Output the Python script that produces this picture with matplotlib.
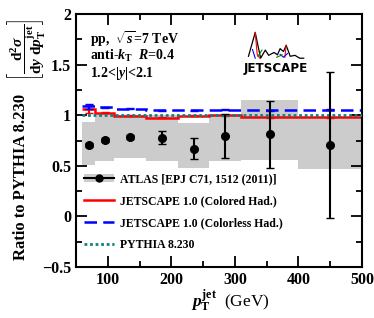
import matplotlib
matplotlib.use('Agg')
import matplotlib.pyplot as plt
from matplotlib.patches import Patch
from matplotlib.lines import Line2D

plt.rcParams['font.family'] = 'Liberation Serif'
plt.rcParams['font.weight'] = 'bold'
plt.rcParams['mathtext.fontset'] = 'custom'
plt.rcParams['mathtext.rm'] = 'Liberation Serif:bold'
plt.rcParams['mathtext.bf'] = 'Liberation Serif:bold'
plt.rcParams['mathtext.it'] = 'Liberation Serif:italic:bold'

# pT bins (GeV)
bin_edges = [60, 80, 110, 160, 210, 260, 310, 400, 500]

# ATLAS data / PYTHIA
atlas_x = [70, 95, 135, 185, 235, 285, 355, 450]
atlas_y = [0.71, 0.76, 0.785, 0.78, 0.67, 0.795, 0.81, 0.71]
atlas_err = [0.02, 0.02, 0.02, 0.06, 0.105, 0.215, 0.335, 0.72]
sys_lo = [0.51, 0.545, 0.58, 0.55, 0.48, 0.545, 0.555, 0.465]
sys_hi = [0.935, 1.0, 1.0, 1.0, 0.92, 1.0, 1.15, 0.98]

# JETSCAPE / PYTHIA ratios
colored = [1.06, 1.027, 0.993, 0.973, 0.993, 1.0, 0.98, 0.98]
colored_err = [0.04, 0.005, 0.005, 0.005, 0.005, 0.005, 0.005, 0.005]
colorless = [1.09, 1.08, 1.066, 1.05, 1.05, 1.055, 1.05, 1.056]
colorless_err = [0.025, 0.005, 0.005, 0.005, 0.005, 0.005, 0.005, 0.005]
pythia = [1.0, 1.0, 1.0, 1.0, 1.0, 1.0, 1.0, 1.0]

fig = plt.figure(figsize=(3.74, 3.18), dpi=100)
ax = fig.add_axes([0.203, 0.160, 0.765, 0.796])

# systematic band
ax.stairs(sys_hi, bin_edges, baseline=sys_lo, fill=True, color='#cccccc', lw=0, zorder=1)

ax.stairs(pythia, bin_edges, baseline=None, color='#118080', ls=(0, (1, 1)), lw=2, zorder=3)
ax.stairs(colored, bin_edges, baseline=None, color='red', lw=1.8, zorder=2)
ax.errorbar(atlas_x, colored, yerr=colored_err, fmt='none', ecolor='red', lw=1.5, capsize=3, zorder=2)
ax.stairs(colorless, bin_edges, baseline=None, color='blue', ls=(0, (5, 2.5)), lw=1.8, zorder=2)
ax.errorbar(atlas_x, colorless, yerr=colorless_err, fmt='none', ecolor='blue', lw=1.5, capsize=3, zorder=2)

eb = ax.errorbar(atlas_x, atlas_y, yerr=atlas_err, fmt='o', color='black', ms=5.5,
                 lw=1.5, capsize=3, zorder=5)

ax.set_xlim(50, 500)
ax.set_ylim(-0.5, 2)
ax.set_xticks([100, 200, 300, 400, 500])
ax.set_xticks([50, 150, 250, 350, 450], minor=True)
ax.set_yticks([-0.5, 0, 0.5, 1, 1.5, 2])
ax.set_yticklabels(['\u22120.5', '0', '0.5', '1', '1.5', '2'])
ax.set_yticks([-0.25, 0.25, 0.75, 1.25, 1.75], minor=True)
ax.tick_params(which='both', direction='in', top=True, right=True, labelsize=11.5, width=1.3)
ax.tick_params(which='major', length=8)
ax.tick_params(which='minor', length=4)
for s in ax.spines.values():
    s.set_linewidth(1.5)

ax.set_xlabel(r'$p_{\mathrm{T}}^{\mathrm{jet}}$  (GeV)', fontsize=12.5, x=0.54, labelpad=0)
fig.text(0.055, 0.445, 'Ratio to PYTHIA 8.230', rotation=90, ha='center', va='center',
         fontsize=12, fontweight='bold')
fig.text(0.072, 0.845,
         r'$\left[\dfrac{\mathrm{d}^2\sigma}{\mathrm{d}y\ \mathrm{d}p_{\mathrm{T}}^{\mathrm{jet}}}\right]$',
         rotation=90, ha='center', va='center', fontsize=11)

ax.text(0.05, 0.9, r'pp,  $\sqrt{s}$=7 TeV', transform=ax.transAxes, fontsize=10, va='center')
ax.text(0.05, 0.833, r'anti-$k_{\mathrm{T}}$  $R$=0.4', transform=ax.transAxes, fontsize=10, va='center')
ax.text(0.05, 0.766, r'1.2<|$y$|<2.1', transform=ax.transAxes, fontsize=10, va='center')

# JETSCAPE logo
lg = fig.add_axes([0.65, 0.76, 0.18, 0.15])
lg.set_xlim(0, 100)
lg.set_ylim(0, 100)
lg.axis('off')
lg.plot([8, 18, 26, 33, 38, 46, 51, 55, 60, 64, 70, 77, 84, 90],
        [42, 92, 38, 55, 44, 50, 45, 58, 52, 65, 42, 44, 38, 38], color='black', lw=0.9)
lg.plot([18, 21, 25], [92, 45, 38], color='red', lw=0.8)
lg.plot([14, 18], [56, 38], color='blue', lw=0.8)
lg.plot([22, 28], [42, 55], color='green', lw=0.8)
lg.plot([64, 62], [65, 40], color='red', lw=0.8)
lg.plot([55, 60, 66], [46, 40, 48], color='blue', lw=0.8)
lg.plot([50, 58], [40, 45], color='green', lw=0.8)
lg.text(48, 16, 'JETSCAPE', ha='center', va='center', fontsize=9.5, family='DejaVu Sans',
        fontweight='bold', fontstretch='condensed')

band = Patch(facecolor='#cccccc', edgecolor='none')
atlas_line = Line2D([], [], color='black', lw=1.5, marker='o', ms=5)
handles = [(band, atlas_line),
           Line2D([], [], color='red', lw=1.8),
           Line2D([], [], color='blue', lw=1.8, ls=(0, (5, 2.5))),
           Line2D([], [], color='#118080', lw=2, ls=(0, (1, 1)))]
labels = ['ATLAS [EPJ C71, 1512 (2011)]', 'JETSCAPE 1.0 (Colored Had.)',
          'JETSCAPE 1.0 (Colorless Had.)', 'PYTHIA 8.230']
ax.legend(handles, labels, loc='upper left', bbox_to_anchor=(0.01, 0.39), frameon=False,
          fontsize=8.5, handlelength=2.6, labelspacing=0.85, handletextpad=0.5,
          borderaxespad=0)

fig.savefig('out.png', dpi=100)
